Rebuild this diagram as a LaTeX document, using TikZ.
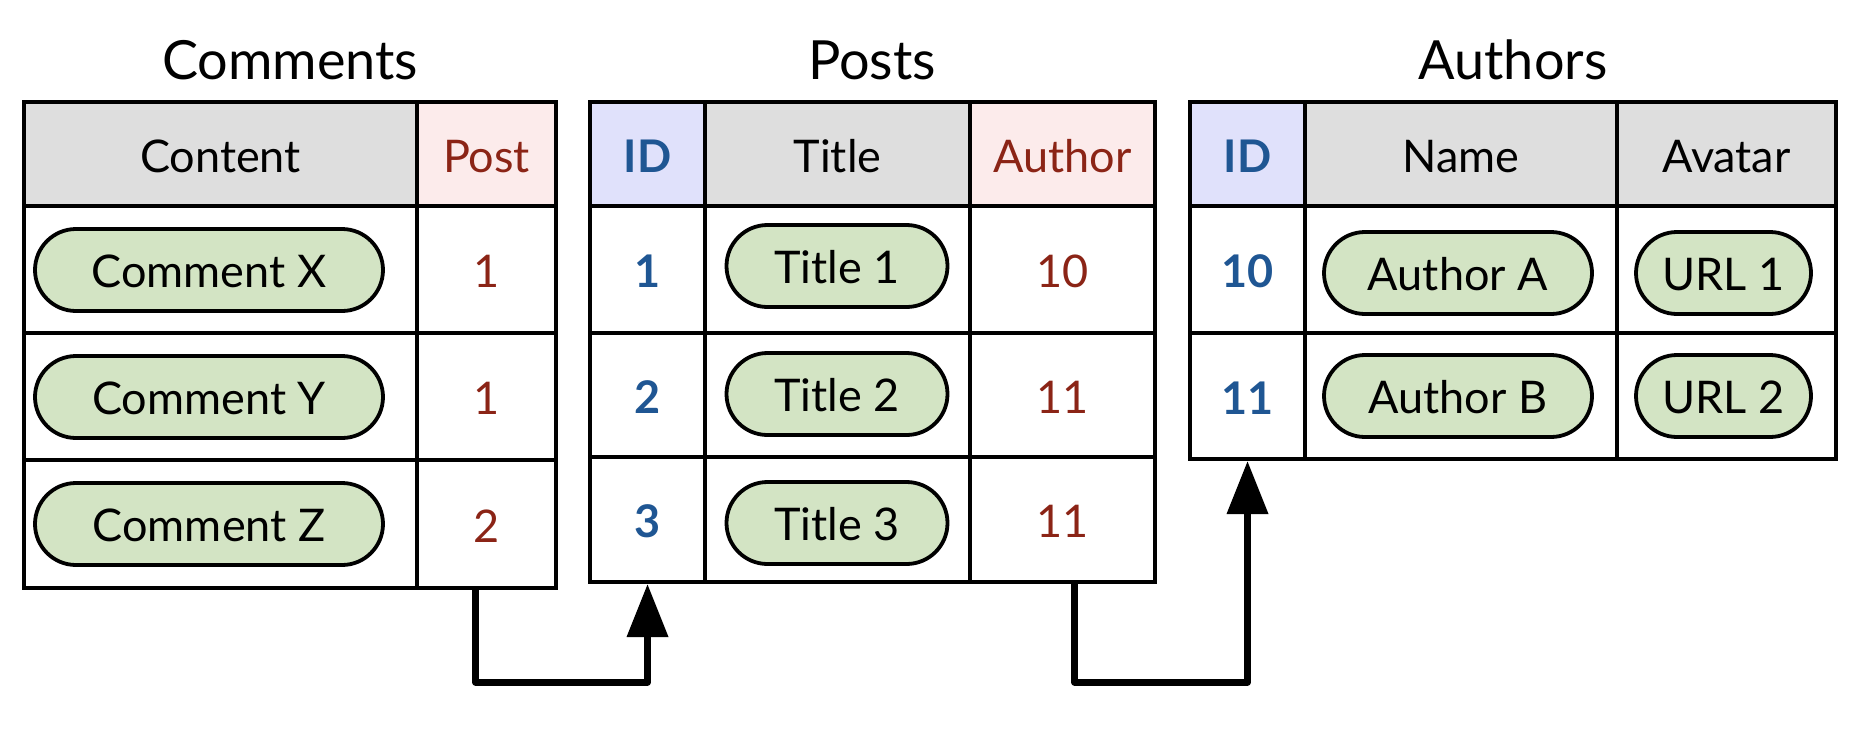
\documentclass[tikz,border=0pt]{standalone}
\usepackage{fontspec}
\setmainfont{Lato}
\usetikzlibrary{arrows.meta,shapes.misc}
\definecolor{hdrgray}{RGB}{222,222,222}
\definecolor{hdrpink}{RGB}{252,235,235}
\definecolor{hdrblue}{RGB}{224,225,251}
\definecolor{pillgreen}{RGB}{211,228,196}
\definecolor{fkred}{RGB}{139,36,22}
\definecolor{pkblue}{RGB}{31,86,147}
\tikzset{
  cell/.style={draw=black, line width=4pt, inner sep=0pt, text height=36pt, text depth=0pt,
    font=\fontsize{45}{52}\selectfont},
  pill/.style={draw=black, line width=3.8pt, fill=pillgreen, rounded rectangle, inner sep=0pt,
    minimum height=82pt, text height=35pt, text depth=0pt, font=\fontsize{45}{52}\selectfont},
  tabtitle/.style={inner sep=0pt, anchor=base, font=\fontsize{54}{62}\selectfont},
  fk/.style={text=fkred},
  pk/.style={text=pkblue, font=\fontsize{45}{52}\selectfont\bfseries},
  conn/.style={line width=7pt, line join=round, -{Triangle[length=53pt,width=40pt]}}
}
\begin{document}
\begin{tikzpicture}[x=1pt,y=-1pt]
\useasboundingbox[fill=white] (0,0) rectangle (1864,732);
% ---------- Comments ----------
\node[tabtitle] (tcom) at (290,79) {Comments};
\node[cell, fill=hdrgray, minimum width=393pt, minimum height=104pt] (cmh1) at (220.5,154) {Content};
\node[cell, fill=hdrpink, fk, minimum width=139pt, minimum height=104pt] (cmh2) at (486.5,154) {Post};
\node[cell, fill=white, minimum width=393pt, minimum height=127pt] (cm11) at (220.5,269.5) {};
\node[cell, fill=white, fk, minimum width=139pt, minimum height=127pt] (cm12) at (486.5,269.5) {1};
\node[cell, fill=white, minimum width=393pt, minimum height=127pt] (cm21) at (220.5,396.5) {};
\node[cell, fill=white, fk, minimum width=139pt, minimum height=127pt] (cm22) at (486.5,396.5) {1};
\node[cell, fill=white, minimum width=393pt, minimum height=128pt] (cm31) at (220.5,524) {};
\node[cell, fill=white, fk, minimum width=139pt, minimum height=128pt] (cm32) at (486.5,524) {2};
\node[pill, minimum width=348pt] (pcx) at (209,270) {Comment X};
\node[pill, minimum width=348pt] (pcy) at (209,397) {Comment Y};
\node[pill, minimum width=348pt] (pcz) at (209,524) {Comment Z};
% ---------- Posts ----------
\node[tabtitle] (tpos) at (872,79) {Posts};
\node[cell, fill=hdrblue, pk, minimum width=115pt, minimum height=104pt] (psh1) at (647.5,154) {ID};
\node[cell, fill=hdrgray, minimum width=265pt, minimum height=104pt] (psh2) at (837.5,154) {Title};
\node[cell, fill=hdrpink, fk, minimum width=185pt, minimum height=104pt] (psh3) at (1062.5,154) {Author};
\node[cell, fill=white, pk, minimum width=115pt, minimum height=127pt] (ps11) at (647.5,269.5) {1};
\node[cell, fill=white, minimum width=265pt, minimum height=127pt] (ps12) at (837.5,269.5) {};
\node[cell, fill=white, fk, minimum width=185pt, minimum height=127pt] (ps13) at (1062.5,269.5) {10};
\node[cell, fill=white, pk, minimum width=115pt, minimum height=124pt] (ps21) at (647.5,395) {2};
\node[cell, fill=white, minimum width=265pt, minimum height=124pt] (ps22) at (837.5,395) {};
\node[cell, fill=white, fk, minimum width=185pt, minimum height=124pt] (ps23) at (1062.5,395) {11};
\node[cell, fill=white, pk, minimum width=115pt, minimum height=125pt] (ps31) at (647.5,519.5) {3};
\node[cell, fill=white, minimum width=265pt, minimum height=125pt] (ps32) at (837.5,519.5) {};
\node[cell, fill=white, fk, minimum width=185pt, minimum height=125pt] (ps33) at (1062.5,519.5) {11};
\node[pill, minimum width=221pt] (pt1) at (837,266) {Title 1};
\node[pill, minimum width=221pt] (pt2) at (837,394) {Title 2};
\node[pill, minimum width=221pt] (pt3) at (837,523) {Title 3};
% ---------- Authors ----------
\node[tabtitle] (taut) at (1513,79) {Authors};
\node[cell, fill=hdrblue, pk, minimum width=115pt, minimum height=104pt] (auh1) at (1247.5,154) {ID};
\node[cell, fill=hdrgray, minimum width=312pt, minimum height=104pt] (auh2) at (1461,154) {Name};
\node[cell, fill=hdrgray, minimum width=219pt, minimum height=104pt] (auh3) at (1726.5,154) {Avatar};
\node[cell, fill=white, pk, minimum width=115pt, minimum height=127pt] (au11) at (1247.5,269.5) {10};
\node[cell, fill=white, minimum width=312pt, minimum height=127pt] (au12) at (1461,269.5) {};
\node[cell, fill=white, minimum width=219pt, minimum height=127pt] (au13) at (1726.5,269.5) {};
\node[cell, fill=white, pk, minimum width=115pt, minimum height=126pt] (au21) at (1247.5,396) {11};
\node[cell, fill=white, minimum width=312pt, minimum height=126pt] (au22) at (1461,396) {};
\node[cell, fill=white, minimum width=219pt, minimum height=126pt] (au23) at (1726.5,396) {};
\node[pill, minimum width=268pt] (pa1) at (1458,273) {Author A};
\node[pill, minimum width=268pt] (pa2) at (1458,396) {Author B};
\node[pill, minimum width=175pt] (pu1) at (1723.5,273) {URL 1};
\node[pill, minimum width=175pt] (pu2) at (1723.5,396) {URL 2};
% ---------- connectors ----------
\draw[conn] ([xshift=-11pt]cm32.south) -- ++(0,92) -| (ps31.south);
\draw[conn] ([xshift=12pt]ps33.south) -- ++(0,98) -| (au21.south);
\end{tikzpicture}
\end{document}
